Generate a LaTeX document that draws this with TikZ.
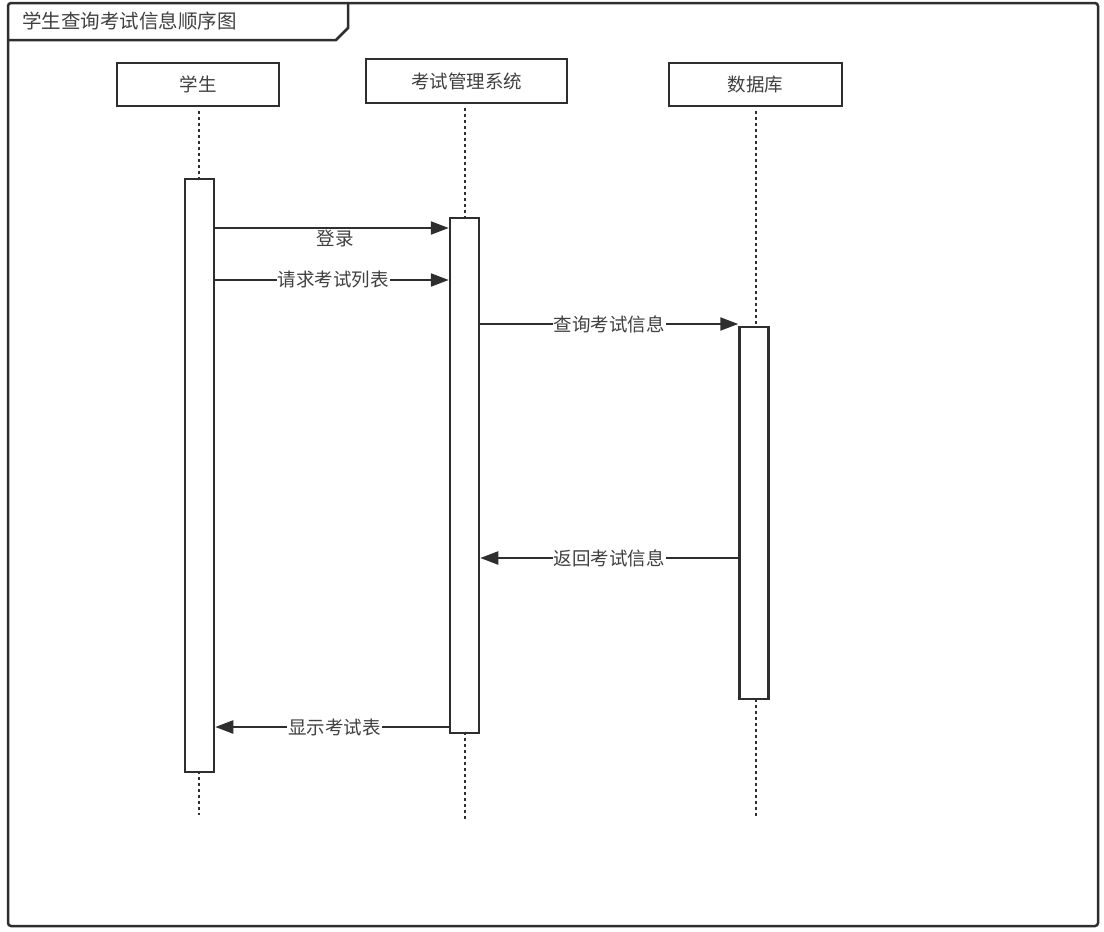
\documentclass[tikz,border=0pt]{standalone}
\usepackage{fontspec}
\newfontfamily\cjk{Noto Sans CJK SC}
\usetikzlibrary{arrows.meta}
\definecolor{ln}{HTML}{2E2E2E}
\definecolor{tx}{HTML}{404040}
\tikzset{
  headbox/.style={draw=ln, line width=2.5pt, fill=white, inner sep=0pt, font=\cjk\fontsize{18.5}{20}\selectfont, text=tx},
  actbar/.style={draw=ln, line width=2.5pt, fill=white, minimum width=29pt, inner sep=0pt},
  lifeline/.style={draw=ln, line width=2.8pt, dash pattern=on 2.6pt off 3.4pt},
  msg/.style={draw=ln, line width=2.3pt, -{Triangle[length=18pt,width=13pt]}},
  msglabel/.style={fill=white, inner sep=1pt, font=\cjk\fontsize{18.5}{20}\selectfont, text=tx},
}
\begin{document}
\begin{tikzpicture}[x=1pt,y=-1pt]
\useasboundingbox (0,0) rectangle (1104,932);
% frame
\draw[ln, line width=2.5pt, rounded corners=3pt] (8,3) rectangle (1098,926);
\draw[ln, line width=2.5pt] (8,40) -- (336,40) -- (348,28) -- (348,3);
\node[anchor=west, font=\cjk\fontsize{19.5}{21}\selectfont, text=tx, inner sep=0pt] (title) at (22,21) {学生查询考试信息顺序图};
% headers
\node[headbox, minimum width=162pt, minimum height=43pt] (stu) at (198,84.5) {学生};
\node[headbox, minimum width=201pt, minimum height=44pt] (sys) at (466.5,81) {考试管理系统};
\node[headbox, minimum width=173pt, minimum height=43pt] (db) at (755.5,84.5) {数据库};
% lifeline ends
\coordinate (stuend) at (199,815);
\coordinate (sysend) at (465,820);
\coordinate (dbend) at (756,818);
\draw[lifeline] (stu.south -| stuend) ++(0,4) -- (stuend);
\draw[lifeline] (sys.south -| sysend) ++(0,4) -- (sysend);
\draw[lifeline] (db.south -| dbend) ++(0,4) -- (dbend);
% activation bars
\node[actbar, minimum height=593pt] (sa) at (199.5,475.5) {};
\node[actbar, minimum height=515pt] (ya) at (464.5,475.5) {};
\node[actbar, minimum height=372pt] (da) at (754,513) {};
% messages
\draw[msg] (sa.east |- 0,228) -- (ya.west |- 0,228);
\node[msglabel] (m1) at (335,239) {登录};
\draw[msg] (sa.east |- 0,280) -- node[msglabel, pos=0.505] (m2) {请求考试列表} (ya.west |- 0,280);
\draw[msg] (ya.east |- 0,324) -- node[msglabel, pos=0.5] (m3) {查询考试信息} (da.west |- 0,324);
\draw[msg] (da.west |- 0,558) -- node[msglabel, pos=0.5] (m4) {返回考试信息} (ya.east |- 0,558);
\draw[msg] (ya.west |- 0,727) -- node[msglabel, pos=0.49] (m5) {显示考试表} (sa.east |- 0,727);
\end{tikzpicture}
\end{document}
